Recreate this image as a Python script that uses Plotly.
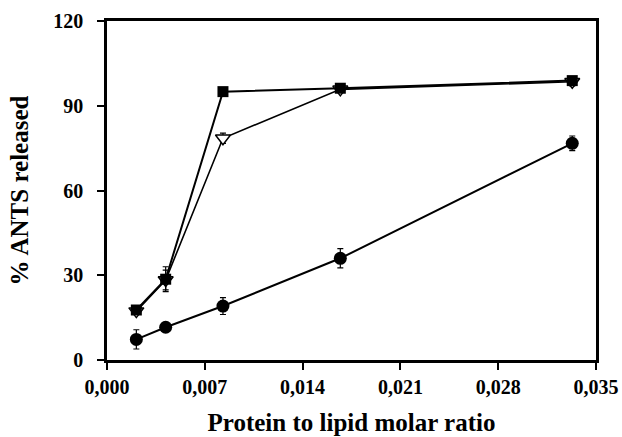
import plotly.graph_objects as go

ratio = [0.0021, 0.0042, 0.0083, 0.0167, 0.0333]
sq_vals = [17.7, 28.6, 95.0, 96.2, 98.9]
sq_err = [1.5, 4.4, 0.8, 0.8, 1.0]
tri_vals = [17.3, 28.3, 78.5, 95.8, 98.5]
tri_err = [1.0, 3.5, 1.8, 1.0, 1.5]
circ_vals = [7.3, 11.6, 19.1, 36.0, 76.7]
circ_err = [3.4, 1.0, 3.0, 3.4, 2.6]

x_ticks = [0.0, 0.007, 0.014, 0.021, 0.028, 0.035]
x_ticktext = ["0,000", "0,007", "0,014", "0,021", "0,028", "0,035"]
y_ticks = [0, 30, 60, 90, 120]
y_ticktext = ["0", "30", "60", "90", "120"]

font_family = "Liberation Serif"

fig = go.Figure()

def err(v):
    return dict(type="data", array=v, visible=True, color="black", thickness=1.2, width=3)

fig.add_trace(go.Scatter(
    x=ratio, y=circ_vals, mode="lines+markers",
    line=dict(color="black", width=2),
    marker=dict(symbol="circle", size=13, color="black"),
    error_y=err(circ_err), showlegend=False))

fig.add_trace(go.Scatter(
    x=ratio, y=tri_vals, mode="lines+markers",
    line=dict(color="black", width=1.6),
    marker=dict(symbol="triangle-down", size=13, color="white",
                line=dict(color="black", width=1.5)),
    error_y=err(tri_err), showlegend=False))

fig.add_trace(go.Scatter(
    x=ratio, y=sq_vals, mode="lines+markers",
    line=dict(color="black", width=2),
    marker=dict(symbol="square", size=11, color="black"),
    error_y=err(sq_err), showlegend=False))

axis_common = dict(
    showgrid=False, zeroline=False, showline=True, linecolor="black",
    linewidth=2.5, mirror=True, ticks="outside", ticklen=7, tickwidth=2,
    tickcolor="black", automargin=False,
    tickfont=dict(family=font_family, size=20, color="black", weight="bold"),
)

fig.update_layout(
    width=622, height=437,
    margin=dict(l=107, r=26, t=21, b=77),
    paper_bgcolor="white", plot_bgcolor="white",
    font=dict(family=font_family, color="black"),
    xaxis=dict(
        range=[0, 0.035], tickvals=x_ticks, ticktext=x_ticktext,
        title=dict(text="<b>Protein to lipid molar ratio</b>",
                   font=dict(family=font_family, size=25, color="black"),
                   standoff=17),
        **axis_common),
    yaxis=dict(
        range=[0, 120], tickvals=y_ticks, ticktext=y_ticktext,
        ticklabelstandoff=10,
        title=dict(text="<b>% ANTS released</b>",
                   font=dict(family=font_family, size=25, color="black"),
                   standoff=18),
        **axis_common),
)

fig.write_html("out.html")
